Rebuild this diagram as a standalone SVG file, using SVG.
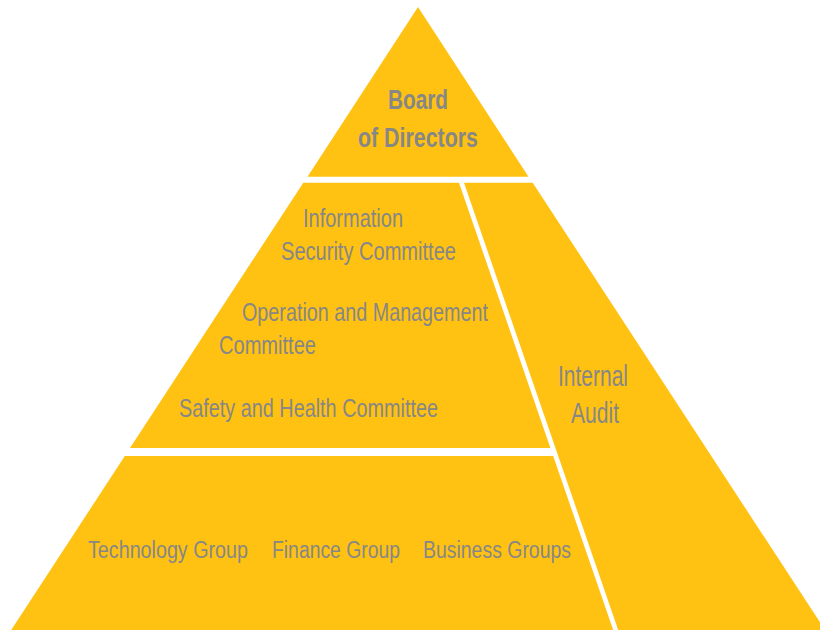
<svg xmlns="http://www.w3.org/2000/svg" width="820" height="630" viewBox="0 0 820 630">
<style>
.tier{fill:#FFC212;}
.t{font-family:"Liberation Sans",Arial,sans-serif;fill:#878787;}
.b{font-weight:bold;font-size:28px;}
.r{font-size:25px;}
.s{font-size:23px;}
.a{font-size:30px;}
</style>
<rect width="820" height="630" fill="#FFFFFF"/>
<g id="board">
<polygon class="tier" points="418,7 528.5,176.7 307.5,176.7"/>
<text class="t b" x="418" y="109" text-anchor="middle" textLength="60" lengthAdjust="spacingAndGlyphs">Board</text>
<text class="t b" x="418" y="146.5" text-anchor="middle" textLength="120" lengthAdjust="spacingAndGlyphs">of Directors</text>
</g>
<g id="committees">
<polygon class="tier" points="303.3,182.7 459,182.7 550.4,448 130,448"/>
<text class="t r" x="303" y="226.5" textLength="100" lengthAdjust="spacingAndGlyphs">Information</text>
<text class="t r" x="281" y="259.5" textLength="175" lengthAdjust="spacingAndGlyphs">Security Committee</text>
<text class="t r" x="242" y="320.5" textLength="246" lengthAdjust="spacingAndGlyphs">Operation and Management</text>
<text class="t r" x="219" y="354" textLength="97" lengthAdjust="spacingAndGlyphs">Committee</text>
<text class="t r" x="179" y="416.5" textLength="259" lengthAdjust="spacingAndGlyphs">Safety and Health Committee</text>
</g>
<g id="groups">
<polygon class="tier" points="124.8,456 553.2,456 613.2,630 11.2,630"/>
<text class="t s" x="88" y="557.5" textLength="160" lengthAdjust="spacingAndGlyphs">Technology Group</text>
<text class="t s" x="272" y="557.5" textLength="128" lengthAdjust="spacingAndGlyphs">Finance Group</text>
<text class="t s" x="423" y="557.5" textLength="148" lengthAdjust="spacingAndGlyphs">Business Groups</text>
</g>
<g id="internal-audit">
<polygon class="tier" points="464,182.7 532.7,182.7 825,630 618.2,630"/>
<text class="t a" x="593" y="386" text-anchor="middle" textLength="70" lengthAdjust="spacingAndGlyphs">Internal</text>
<text class="t a" x="595" y="422.5" text-anchor="middle" textLength="48" lengthAdjust="spacingAndGlyphs">Audit</text>
</g>
<g id="connectors"></g>
</svg>
